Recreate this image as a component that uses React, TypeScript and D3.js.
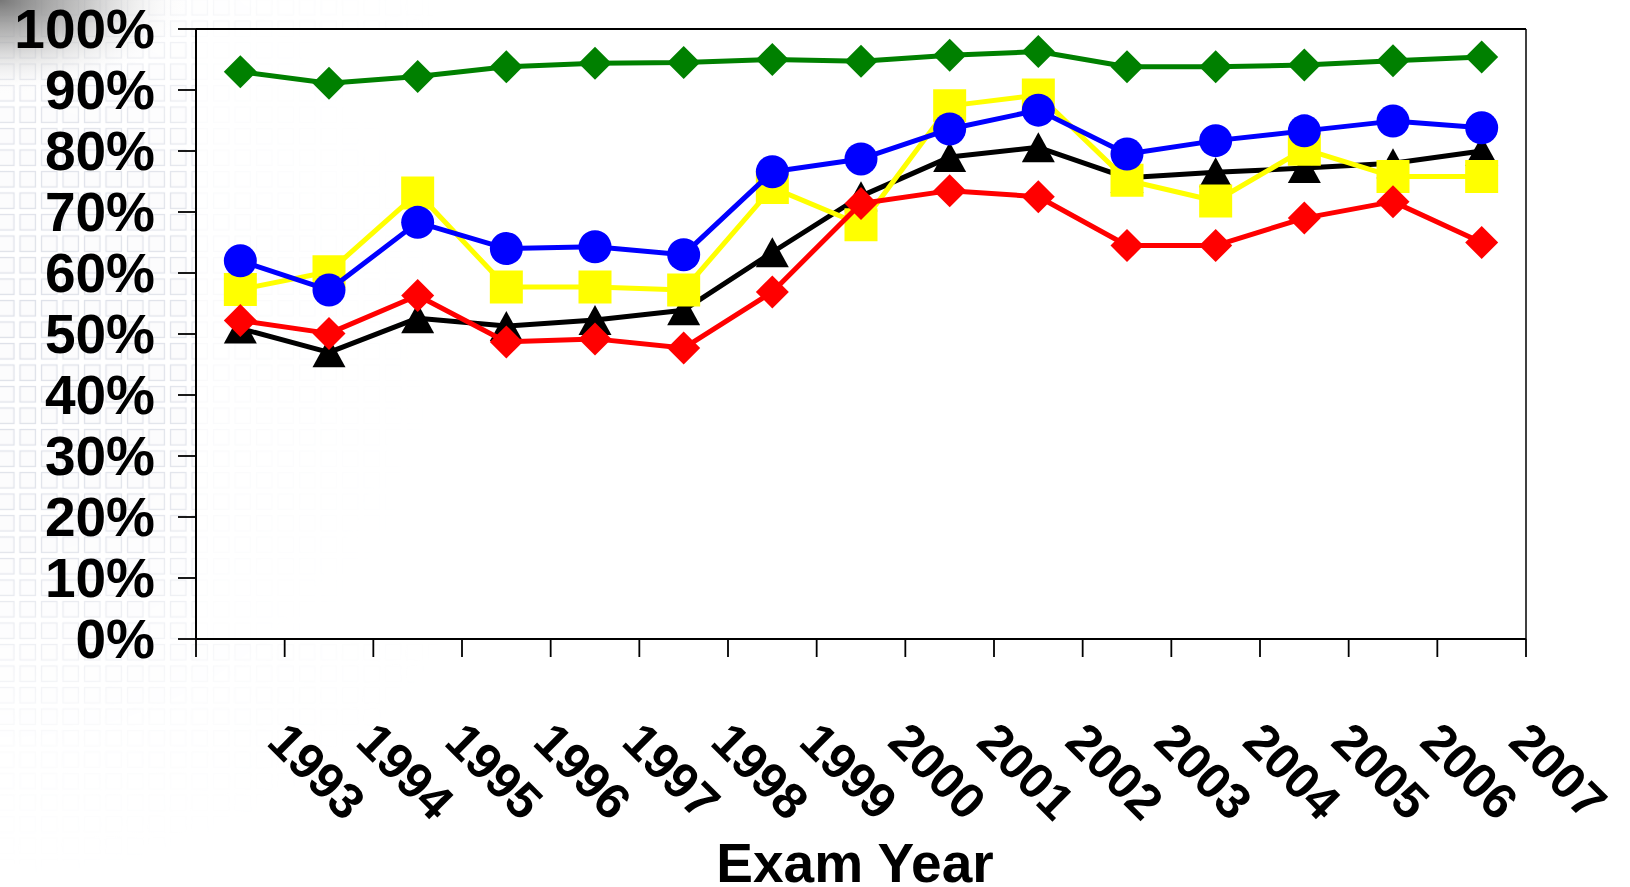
import React from "react";
import * as d3 from "d3";

const years = ["1993","1994","1995","1996","1997","1998","1999","2000","2001","2002","2003","2004","2005","2006","2007"];
const greenVals = [93.0, 91.1, 92.2, 93.8, 94.4, 94.5, 95.0, 94.7, 95.7, 96.3, 93.8, 93.8, 94.1, 94.8, 95.4];
const blueVals = [62.0, 57.2, 68.3, 64.0, 64.3, 63.0, 76.6, 78.7, 83.6, 86.7, 79.5, 81.7, 83.3, 84.9, 83.8];
const yellowVals = [57.3, 60.2, 73.1, 57.7, 57.7, 57.2, 74.0, 67.9, 87.4, 89.2, 75.2, 71.8, 80.3, 75.8, 75.8];
const blackVals = [50.9, 47.0, 52.6, 51.3, 52.3, 53.9, 63.4, 72.6, 79.0, 80.6, 75.6, 76.5, 77.2, 78.0, 80.0];
const redVals = [52.2, 50.1, 56.3, 48.7, 49.2, 47.7, 56.9, 71.4, 73.5, 72.5, 64.5, 64.5, 69.0, 71.7, 65.0];
const yTicks = [0, 10, 20, 30, 40, 50, 60, 70, 80, 90, 100];
const xTitle = "Exam Year";

const series = [
  { name: "black", color: "#000000", marker: "triangle", values: blackVals },
  { name: "yellow", color: "#FFFF00", marker: "square", values: yellowVals },
  { name: "blue", color: "#0000FF", marker: "circle", values: blueVals },
  { name: "red", color: "#FF0000", marker: "diamond", values: redVals },
  { name: "green", color: "#008000", marker: "diamond", values: greenVals },
];

const W = 1630, H = 887;
const L = 196, R = 1526, T = 29, B = 639;
const FONT = "Arial, 'Liberation Sans', Helvetica, sans-serif";

function markerPath(type: string, cx: number, cy: number): string {
  const h = 16.5;
  if (type === "diamond") return `M${cx},${cy - h}L${cx + h},${cy}L${cx},${cy + h}L${cx - h},${cy}Z`;
  if (type === "square") return `M${cx - h},${cy - h}H${cx + h}V${cy + h}H${cx - h}Z`;
  if (type === "triangle") return `M${cx},${cy - 15}L${cx + 16.5},${cy + 15}L${cx - 16.5},${cy + 15}Z`;
  return "";
}

export default function App() {
  const x = d3.scaleBand<string>().domain(years).range([L, R]).padding(0);
  const y = d3.scaleLinear().domain([0, 100]).range([B, T]);
  const cx = (i: number) => (x(years[i]) as number) + x.bandwidth() / 2;
  const line = d3.line<number>().x((_, i) => cx(i)).y((v) => y(v));
  const bounds = [...years.map((yr) => x(yr) as number), R];

  return (
    <svg width={W} height={H} style={{ position: "absolute", left: 0, top: 0, background: "#fff" }} fontFamily={FONT}>
      <defs>
        <pattern id="sq" width={21.5} height={21.5} patternUnits="userSpaceOnUse" x={-4} y={-3}>
          <rect x={2.5} y={2.5} width={15.5} height={15.5} fill="#fcfcfd" stroke="#dde0e8" strokeWidth={1.3} />
        </pattern>
        <radialGradient id="fadeG" gradientUnits="userSpaceOnUse" cx={0} cy={330} r={560}>
          <stop offset="0" stopColor="#fff" stopOpacity={1} />
          <stop offset="0.4" stopColor="#fff" stopOpacity={0.85} />
          <stop offset="0.75" stopColor="#fff" stopOpacity={0.12} />
          <stop offset="1" stopColor="#fff" stopOpacity={0} />
        </radialGradient>
        <mask id="fadeM">
          <rect x={0} y={0} width={W} height={H} fill="url(#fadeG)" />
        </mask>
        <radialGradient id="corner" gradientUnits="userSpaceOnUse" cx={0} cy={0} r={190} gradientTransform="scale(1,0.5)">
          <stop offset="0" stopColor="#777777" stopOpacity={1} />
          <stop offset="0.45" stopColor="#a0a0a0" stopOpacity={0.6} />
          <stop offset="1" stopColor="#ffffff" stopOpacity={0} />
        </radialGradient>
      </defs>

      <rect x={0} y={0} width={W} height={H} fill="#ffffff" />
      <rect x={0} y={0} width={700} height={H} fill="url(#sq)" mask="url(#fadeM)" />
      <rect x={0} y={0} width={260} height={120} fill="url(#corner)" />
      <rect x={L} y={T} width={R - L} height={B - T} fill="#ffffff" opacity={0.8} />

      {/* plot border */}
      <line x1={L} x2={R} y1={T} y2={T} stroke="#000" strokeWidth={1.8} />
      <line x1={R} x2={R} y1={T} y2={B} stroke="#000" strokeWidth={1.5} />
      <line x1={L} x2={L} y1={T} y2={B} stroke="#000" strokeWidth={2} />
      <line x1={L} x2={R} y1={B} y2={B} stroke="#000" strokeWidth={2} />

      {/* y ticks */}
      {yTicks.map((t) => (
        <g key={"yt" + t}>
          <line x1={L - 18} x2={L} y1={y(t)} y2={y(t)} stroke="#000" strokeWidth={1.8} />
          <text x={155} y={y(t) + 19} textAnchor="end" fontSize={55} fontWeight="bold" fill="#000">
            {t + "%"}
          </text>
        </g>
      ))}

      {/* x ticks */}
      {bounds.map((bx, i) => (
        <line key={"xt" + i} x1={bx} x2={bx} y1={B} y2={B + 18} stroke="#000" strokeWidth={1.8} />
      ))}
      {years.map((yr, i) => (
        <text key={"xl" + yr} transform={`translate(${cx(i) + 25},${744}) rotate(45)`} fontSize={50} fontWeight="bold" fill="#000">
          {yr}
        </text>
      ))}
      <text x={855} y={882} textAnchor="middle" fontSize={55} fontWeight="bold" fill="#000">
        {xTitle}
      </text>

      {/* series */}
      {series.map((s) => (
        <g key={s.name}>
          <path d={line(s.values) as string} fill="none" stroke={s.color} strokeWidth={5} strokeLinejoin="round" />
          {s.values.map((v, i) =>
            s.marker === "circle" ? (
              <circle key={i} cx={cx(i)} cy={y(v)} r={16.5} fill={s.color} />
            ) : (
              <path key={i} d={markerPath(s.marker, cx(i), y(v))} fill={s.color} />
            )
          )}
        </g>
      ))}
    </svg>
  );
}
